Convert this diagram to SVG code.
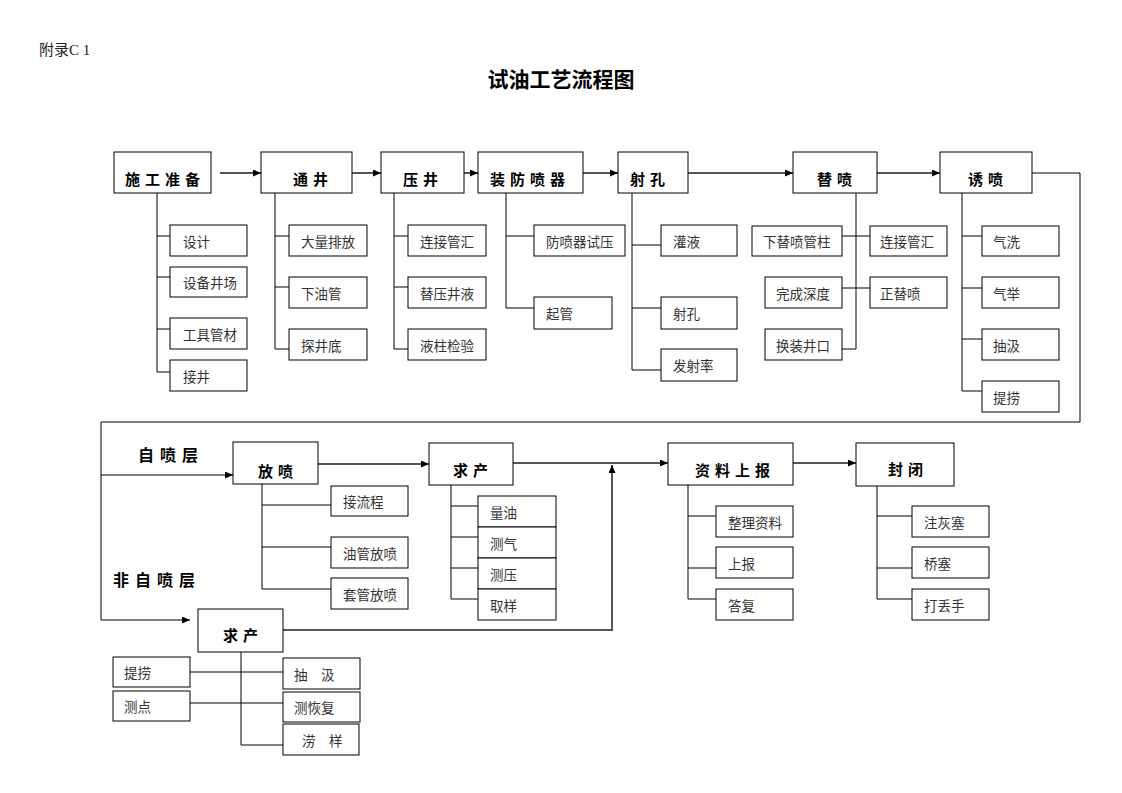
<svg xmlns="http://www.w3.org/2000/svg" width="1122" height="793" viewBox="0 0 1122 793">
<style>
.box{fill:#fff;stroke:#000;stroke-width:1}
.ln{stroke:#000;stroke-width:1;fill:none}
.ar{stroke:#555;stroke-width:2;fill:none;marker-end:url(#ah)}
.ar1{stroke:#000;stroke-width:1;fill:none;marker-end:url(#ah)}
.main{font-family:"Noto Sans CJK SC",sans-serif;font-weight:700;font-size:15px;letter-spacing:5px;fill:#000}
.sub{font-family:"Noto Sans CJK SC",sans-serif;font-size:13.5px;fill:#333}
.lbl{font-family:"Noto Sans CJK SC",sans-serif;font-weight:700;font-size:16px;letter-spacing:6px;fill:#000}
</style>
<defs>
<marker id="ah" markerUnits="userSpaceOnUse" markerWidth="9" markerHeight="8" refX="8" refY="3.5" orient="auto">
<path d="M0,0 L8,3.5 L0,7 z" fill="#000"/>
</marker>
</defs>
<rect width="1122" height="793" fill="#fff"/>
<text x="39" y="55" style="font-family:'Liberation Serif','Noto Sans CJK SC',serif;font-size:15px;fill:#222">附录C 1</text>
<text x="561" y="87" text-anchor="middle" style="font-family:'Noto Sans CJK SC',sans-serif;font-weight:700;font-size:21px;fill:#000">试油工艺流程图</text>
<text class="lbl" x="138" y="461">自喷层</text>
<text class="lbl" x="113" y="586">非自喷层</text>

<g id="connectors">
<line class="ar" x1="220" y1="173" x2="261" y2="173"/>
<line class="ar" x1="352" y1="173" x2="381" y2="173"/>
<line class="ar" x1="464" y1="173" x2="478" y2="173"/>
<line class="ar" x1="583" y1="173" x2="618" y2="173"/>
<line class="ar" x1="688" y1="173" x2="793" y2="173"/>
<line class="ar" x1="877" y1="173" x2="940" y2="173"/>
<polyline class="ln" points="1032,173 1080,173 1080,422 101,422 101,620"/>
<line class="ar1" x1="101" y1="620" x2="190" y2="620"/>
<line class="ar1" x1="101" y1="475" x2="233" y2="475"/>
<path class="ln" d="M157,193 V372 M157,236 H170 M157,277 H170 M157,329 H170 M157,372 H170"/>
<path class="ln" d="M275,193 V349 M275,236 H289 M275,287 H289 M275,349 H289"/>
<path class="ln" d="M394,193 V349 M394,236 H408 M394,287 H408 M394,349 H408"/>
<path class="ln" d="M506,193 V308 M506,236 H534 M506,308 H534"/>
<path class="ln" d="M632,193 V370 M632,245 H661 M632,308 H661 M632,370 H661"/>
<path class="ln" d="M856,193 V349 M842,236 H870 M842,288 H870 M842,349 H856"/>
<path class="ln" d="M962,193 V391 M962,236 H982 M962,288 H982 M962,339 H982 M962,391 H982"/>
<line class="ar" x1="318" y1="464" x2="429" y2="464"/>
<line class="ar" x1="513" y1="463" x2="668" y2="463"/>
<line class="ar" x1="793" y1="463" x2="856" y2="463"/>
<polyline class="ar" points="283,630 612,630 612,465"/>
<path class="ln" d="M262,484 V589 M262,505 H331 M262,547 H331 M262,589 H331"/>
<path class="ln" d="M451,485 V599 M451,506 H478 M451,537 H478 M451,568 H478 M451,599 H478"/>
<path class="ln" d="M688,485 V599 M688,516 H716 M688,568 H716 M688,599 H716"/>
<path class="ln" d="M877,486 V599 M877,516 H912 M877,568 H912 M877,599 H912"/>
<path class="ln" d="M241,652 V745 M190,672 H283 M190,703 H283 M241,745 H283"/>
</g>

<g id="n-shigong"><rect class="box" x="114" y="152" width="97" height="41"/><text class="main" x="125" y="185">施工准备</text></g>
<g id="n-tongjing"><rect class="box" x="261" y="152" width="91" height="41"/><text class="main" x="293" y="185">通井</text></g>
<g id="n-yajing"><rect class="box" x="381" y="152" width="83" height="41"/><text class="main" x="403" y="185">压井</text></g>
<g id="n-zhuangfang"><rect class="box" x="478" y="152" width="105" height="41"/><text class="main" x="490" y="185">装防喷器</text></g>
<g id="n-shekong"><rect class="box" x="618" y="152" width="70" height="41"/><text class="main" x="630" y="185">射孔</text></g>
<g id="n-tipen"><rect class="box" x="793" y="152" width="84" height="41"/><text class="main" x="817" y="185">替喷</text></g>
<g id="n-youpen"><rect class="box" x="940" y="152" width="92" height="41"/><text class="main" x="968" y="185">诱喷</text></g>

<g id="s-sheji"><rect class="box" x="170" y="225" width="77" height="31"/><text class="sub" x="183" y="246.5">设计</text></g>
<g id="s-shebei"><rect class="box" x="170" y="267" width="77" height="30"/><text class="sub" x="183" y="288">设备井场</text></g>
<g id="s-gongju"><rect class="box" x="170" y="318" width="77" height="31"/><text class="sub" x="183" y="339.5">工具管材</text></g>
<g id="s-jiejing"><rect class="box" x="170" y="360" width="77" height="31"/><text class="sub" x="183" y="381.5">接井</text></g>

<g id="s-daliang"><rect class="box" x="289" y="225" width="78" height="31"/><text class="sub" x="301" y="246.5">大量排放</text></g>
<g id="s-xiayou"><rect class="box" x="289" y="277" width="78" height="31"/><text class="sub" x="301" y="298.5">下油管</text></g>
<g id="s-tanjing"><rect class="box" x="289" y="329" width="78" height="31"/><text class="sub" x="301" y="350.5">探井底</text></g>

<g id="s-lianjie1"><rect class="box" x="408" y="225" width="78" height="31"/><text class="sub" x="420" y="246.5">连接管汇</text></g>
<g id="s-tiya"><rect class="box" x="408" y="277" width="78" height="31"/><text class="sub" x="420" y="298.5">替压井液</text></g>
<g id="s-yezhu"><rect class="box" x="408" y="329" width="78" height="31"/><text class="sub" x="420" y="350.5">液柱检验</text></g>

<g id="s-fangpenshiya"><rect class="box" x="534" y="225" width="91" height="31"/><text class="sub" x="546" y="246.5">防喷器试压</text></g>
<g id="s-qiguan"><rect class="box" x="534" y="297" width="78" height="32"/><text class="sub" x="546" y="319">起管</text></g>

<g id="s-guanye"><rect class="box" x="661" y="225" width="76" height="31"/><text class="sub" x="673" y="246.5">灌液</text></g>
<g id="s-shekong2"><rect class="box" x="661" y="297" width="76" height="32"/><text class="sub" x="673" y="319">射孔</text></g>
<g id="s-fashelv"><rect class="box" x="661" y="349" width="76" height="32"/><text class="sub" x="673" y="371">发射率</text></g>

<g id="s-xiatipen"><rect class="box" x="752" y="226" width="90" height="30"/><text class="sub" x="763" y="247">下替喷管柱</text></g>
<g id="s-wancheng"><rect class="box" x="765" y="277" width="77" height="31"/><text class="sub" x="776" y="298.5">完成深度</text></g>
<g id="s-huanzhuang"><rect class="box" x="765" y="329" width="77" height="31"/><text class="sub" x="776" y="350.5">换装井口</text></g>
<g id="s-lianjie2"><rect class="box" x="870" y="226" width="77" height="30"/><text class="sub" x="880" y="247">连接管汇</text></g>
<g id="s-zhengtipen"><rect class="box" x="870" y="277" width="77" height="31"/><text class="sub" x="880" y="298.5">正替喷</text></g>

<g id="s-qixi"><rect class="box" x="982" y="226" width="77" height="30"/><text class="sub" x="993" y="247">气洗</text></g>
<g id="s-qiju"><rect class="box" x="982" y="277" width="77" height="31"/><text class="sub" x="993" y="298.5">气举</text></g>
<g id="s-chouji"><rect class="box" x="982" y="329" width="77" height="31"/><text class="sub" x="993" y="350.5">抽汲</text></g>
<g id="s-tilao"><rect class="box" x="982" y="381" width="77" height="31"/><text class="sub" x="993" y="402.5">提捞</text></g>

<g id="n-fangpen"><rect class="box" x="233" y="442" width="85" height="42"/><text class="main" x="258" y="476.5">放喷</text></g>
<g id="n-qiuchan1"><rect class="box" x="429" y="443" width="84" height="42"/><text class="main" x="453" y="476">求产</text></g>
<g id="n-ziliao"><rect class="box" x="668" y="443" width="125" height="42"/><text class="main" x="695" y="476">资料上报</text></g>
<g id="n-fengbi"><rect class="box" x="856" y="443" width="98" height="43"/><text class="main" x="888" y="475">封闭</text></g>
<g id="n-qiuchan2"><rect class="box" x="198" y="609" width="85" height="43"/><text class="main" x="223" y="640.5">求产</text></g>

<g id="s-jieliucheng"><rect class="box" x="331" y="486" width="77" height="30"/><text class="sub" x="343" y="507">接流程</text></g>
<g id="s-youguan"><rect class="box" x="331" y="537" width="77" height="31"/><text class="sub" x="343" y="558.5">油管放喷</text></g>
<g id="s-taoguan"><rect class="box" x="331" y="578" width="77" height="31"/><text class="sub" x="343" y="599.5">套管放喷</text></g>

<g id="s-liangyou"><rect class="box" x="478" y="496" width="78" height="31"/><text class="sub" x="490" y="517.5">量油</text></g>
<g id="s-ceqi"><rect class="box" x="478" y="527" width="78" height="31"/><text class="sub" x="490" y="548.5">测气</text></g>
<g id="s-ceya"><rect class="box" x="478" y="558" width="78" height="31"/><text class="sub" x="490" y="579.5">测压</text></g>
<g id="s-quyang"><rect class="box" x="478" y="589" width="78" height="31"/><text class="sub" x="490" y="610.5">取样</text></g>

<g id="s-zhengli"><rect class="box" x="716" y="506" width="77" height="31"/><text class="sub" x="728" y="527.5">整理资料</text></g>
<g id="s-shangbao"><rect class="box" x="716" y="547" width="77" height="31"/><text class="sub" x="728" y="568.5">上报</text></g>
<g id="s-dafu"><rect class="box" x="716" y="589" width="77" height="31"/><text class="sub" x="728" y="610.5">答复</text></g>

<g id="s-zhuhui"><rect class="box" x="912" y="506" width="77" height="31"/><text class="sub" x="924" y="527.5">注灰塞</text></g>
<g id="s-qiaosai"><rect class="box" x="912" y="547" width="77" height="31"/><text class="sub" x="924" y="568.5">桥塞</text></g>
<g id="s-dadiushou"><rect class="box" x="912" y="589" width="77" height="31"/><text class="sub" x="924" y="610.5">打丢手</text></g>

<g id="s-tilao2"><rect class="box" x="113" y="657" width="77" height="30"/><text class="sub" x="124" y="678">提捞</text></g>
<g id="s-cedian"><rect class="box" x="113" y="691" width="77" height="30"/><text class="sub" x="124" y="712">测点</text></g>
<g id="s-chouji2"><rect class="box" x="283" y="658" width="77" height="31"/><text class="sub" x="294" y="679.5">抽　汲</text></g>
<g id="s-cehuifu"><rect class="box" x="283" y="692" width="77" height="30"/><text class="sub" x="294" y="713">测恢复</text></g>
<g id="s-laoyang"><rect class="box" x="283" y="724" width="76" height="31"/><text class="sub" x="302" y="745.5">涝　样</text></g>
</svg>
